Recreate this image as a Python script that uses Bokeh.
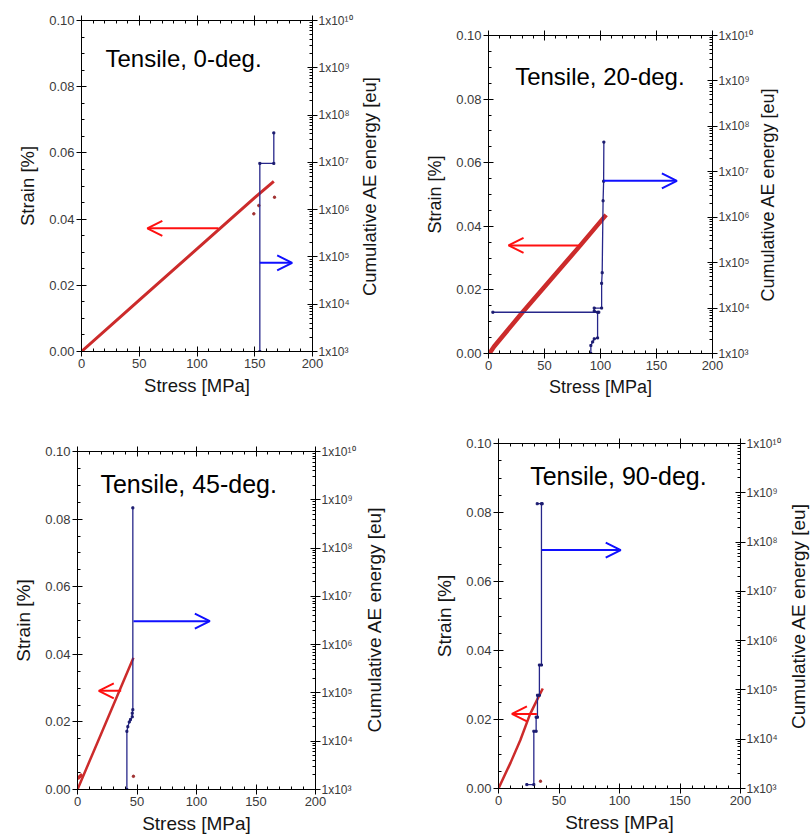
import math
from bokeh.plotting import figure
from bokeh.layouts import column, row
from bokeh.models import (Range1d, LinearAxis, LogAxis, LogScale, FixedTicker,
                          Arrow, OpenHead, Label, Spacer)
from bokeh.embed import file_html
from bokeh.resources import INLINE

# ---------------- data ----------------
STRESS_TICKS = [0, 50, 100, 150, 200]
STRESS_TICK_LABELS = ["0", "50", "100", "150", "200"]
STRAIN_TICKS = [0.0, 0.02, 0.04, 0.06, 0.08, 0.10]
STRAIN_TICK_LABELS = ["0.00", "0.02", "0.04", "0.06", "0.08", "0.10"]
AE_TICKS = [1e3, 1e4, 1e5, 1e6, 1e7, 1e8, 1e9, 1e10]
AE_TICK_LABELS = ["1x10³", "1x10⁴", "1x10⁵", "1x10⁶", "1x10⁷", "1x10⁸", "1x10⁹", "1x10¹⁰"]

TITLES = ["Tensile, 0-deg.", "Tensile, 20-deg.", "Tensile, 45-deg.", "Tensile, 90-deg."]
X_LABEL = "Stress [MPa]"
Y_LABEL = "Strain [%]"
Y2_LABEL = "Cumulative AE energy [eu]"

# 0-deg
stress_0 = [0, 50, 100, 150, 166.5]
strain_0 = [0.0, 0.0155, 0.031, 0.0465, 0.0514]
dot_stress_0 = [149.2, 153.5, 167.1]
dot_strain_0 = [0.0416, 0.0441, 0.0466]
ae_stress_0 = [154.4, 154.4, 166.5, 166.5]
ae_energy_0 = [1.0e3, 9.5e6, 9.5e6, 4.2e7]

# 20-deg
stress_20 = [0, 2, 5, 30, 82, 105]
strain_20 = [0.0, 0.0006, 0.0022, 0.0128, 0.034, 0.0436]
dot_stress_20 = []
dot_strain_20 = []
ae_stress_20a = [3.9, 98.5]
ae_energy_20a = [8.1e3, 8.1e3]
ae_stress_20 = [91.4, 91.4, 93.0, 94.4, 97.4, 97.4, 94.4, 94.4, 101.0, 101.0, 101.5, 102.3, 102.8, 103.0]
ae_energy_20 = [1.0e3, 1.5e3, 1.8e3, 2.1e3, 2.2e3, 8.1e3, 8.6e3, 1.0e4, 1.0e4, 3.5e4, 6.0e4, 2.3e6, 6.2e6, 4.5e7]

# 45-deg
stress_45 = [0, 20, 47]
strain_45 = [0.0, 0.0166, 0.039]
stress_45b = [0, 4]
strain_45b = [0.0032, 0.0045]
dot_stress_45 = [47.0]
dot_strain_45 = [0.0039]
ae_stress_45 = [41.5, 41.5, 42.3, 43.5, 44.5, 46.0, 46.0, 46.5, 46.5]
ae_energy_45 = [1.0e3, 1.6e4, 2.0e4, 2.5e4, 2.8e4, 3.2e4, 3.8e4, 4.5e4, 6.8e8]

# 90-deg
stress_90 = [0, 10, 18, 26, 33, 36.6]
strain_90 = [0.0, 0.0075, 0.014, 0.0215, 0.0265, 0.029]
dot_stress_90 = [34.7]
dot_strain_90 = [0.0021]
ae_stress_90 = [23.4, 29.2, 29.2, 31.1, 31.1, 32.2, 32.2, 33.8, 33.8, 35.5, 35.5, 36.1, 32.0]
ae_energy_90 = [1.2e3, 1.2e3, 1.45e4, 1.45e4, 2.8e4, 2.8e4, 7.8e4, 7.8e4, 3.2e5, 3.2e5, 6.0e8, 6.0e8, 6.0e8]

# arrows: (x_start, x_end, y) in stress / strain units
red_arrows = [(118.6, 57.0, 0.0372), (81.9, 17.9, 0.034), (36.7, 17.9, 0.0292), (31.7, 11.1, 0.0216)]
blue_arrows = [(154.4, 182.4, 0.0268), (102.7, 168.2, 0.0543), (47.0, 111.2, 0.0498), (35.8, 101.0, 0.0691)]
title_pos = [(20.8, 0.0885), (23.8, 0.087), (19.3, 0.0904), (26.2, 0.0906)]

FONT = "Liberation Sans"
RED = "#cc2b2b"
NAVY = "#26268a"


def make_panel(i, fw, fh, bl, bt, br, bb, lab_fs, tick_fs, title_fs, red_w, r_lab_off,
               sx, sy, dsx, dsy, aex_list, aey_list, extra_red=None):
    p = figure(width=bl + fw + br, height=bt + fh + bb,
               x_range=Range1d(0, 200), y_range=Range1d(0, 0.1),
               x_axis_type=None, y_axis_type=None,
               output_backend="svg", toolbar_location=None,
               min_border_left=bl, min_border_top=bt, min_border_right=br, min_border_bottom=bb)
    p.extra_y_ranges = {"ae": Range1d(1e3, 1e10)}
    p.extra_y_scales = {"ae": LogScale()}
    p.outline_line_color = "black"
    p.outline_line_width = 1
    p.background_fill_color = "white"
    p.border_fill_color = "white"

    def style(ax, minor_in=3):
        ax.axis_line_color = "black"
        ax.major_tick_line_color = "black"
        ax.minor_tick_line_color = "black"
        ax.major_tick_in = 5
        ax.major_tick_out = 5
        ax.minor_tick_in = minor_in
        ax.minor_tick_out = 0
        ax.major_label_text_font = FONT
        ax.major_label_text_font_size = f"{tick_fs}px"
        ax.major_label_text_color = "#3a3a3a"
        ax.axis_label_text_font = FONT
        ax.axis_label_text_font_size = f"{lab_fs}px"
        ax.axis_label_text_font_style = "normal"
        ax.axis_label_text_color = "#151515"

    xt = FixedTicker(ticks=STRESS_TICKS, minor_ticks=[v * 10 for v in range(21)])
    xb = LinearAxis(ticker=xt, axis_label=X_LABEL,
                    major_label_overrides=dict(zip(STRESS_TICKS, STRESS_TICK_LABELS)))
    style(xb)
    xb.major_label_standoff = 2
    xb.axis_label_standoff = 4
    p.add_layout(xb, "below")

    xa = LinearAxis(ticker=xt)
    style(xa)
    xa.major_label_text_color = None
    xa.major_label_text_font_size = "1px"
    xa.major_label_standoff = 0
    p.add_layout(xa, "above")

    yt = FixedTicker(ticks=STRAIN_TICKS, minor_ticks=[v * 0.005 for v in range(21)])
    yl = LinearAxis(ticker=yt, axis_label=Y_LABEL,
                    major_label_overrides=dict(zip(STRAIN_TICKS, STRAIN_TICK_LABELS)))
    style(yl)
    yl.major_label_standoff = 2
    yl.axis_label_standoff = 8
    p.add_layout(yl, "left")

    minor_ae = [m * 10 ** e for e in range(3, 10) for m in range(2, 10)]
    yr = LogAxis(y_range_name="ae", ticker=FixedTicker(ticks=AE_TICKS, minor_ticks=minor_ae),
                 major_label_overrides=dict(zip(AE_TICKS, AE_TICK_LABELS)))
    style(yr)
    yr.major_label_text_font_size = f"{tick_fs - 1}px"
    yr.major_label_standoff = 1
    p.add_layout(yr, "right")

    # right axis title, reading bottom-to-top, placed in the right side panel
    p.add_layout(Label(x=r_lab_off, y=fh / 2, x_units="screen", y_units="screen",
                       text=Y2_LABEL, angle=math.pi / 2, text_font=FONT,
                       text_font_size=f"{lab_fs}px", text_color="#151515",
                       text_align="center", text_baseline="middle"), "right")

    # data
    p.line(sx, sy, line_color=RED, line_width=red_w)
    if extra_red is not None:
        p.line(extra_red[0], extra_red[1], line_color=RED, line_width=red_w + 1)
    if dsx:
        p.scatter(dsx, dsy, size=2.5, color="#a03030")
    for ax_, ay_ in zip(aex_list, aey_list):
        p.line(ax_, ay_, y_range_name="ae", line_color=NAVY, line_width=1.3)
        p.scatter(ax_, ay_, y_range_name="ae", marker="square", size=2, color="#1c1c70")

    rx0, rx1, ry = red_arrows[i]
    p.add_layout(Arrow(x_start=rx0, y_start=ry, x_end=rx1, y_end=ry,
                       line_color="#ff1010", line_width=2,
                       end=OpenHead(size=15, line_color="#ff1010", line_width=2)))
    bx0, bx1, by = blue_arrows[i]
    p.add_layout(Arrow(x_start=bx0, y_start=by, x_end=bx1, y_end=by,
                       line_color="#1010ff", line_width=2,
                       end=OpenHead(size=15, line_color="#1010ff", line_width=2)))
    tx, ty = title_pos[i]
    p.add_layout(Label(x=tx, y=ty, text=TITLES[i], text_font=FONT,
                       text_font_size=f"{title_fs}px", text_color="black",
                       text_baseline="alphabetic", text_align="left"))
    return p


p1 = make_panel(0, 231, 331, 81, 10, 95, 52, 18.5, 13, 24, 3, 14,
                stress_0, strain_0, dot_stress_0, dot_strain_0,
                [ae_stress_0], [ae_energy_0])
p2 = make_panel(1, 224, 318, 81, 10, 90, 50, 18, 13, 24, 4.5, 12,
                stress_20, strain_20, dot_stress_20, dot_strain_20,
                [ae_stress_20a, ae_stress_20], [ae_energy_20a, ae_energy_20])
p3 = make_panel(2, 238, 340, 77, 10, 98, 45, 19, 13, 25, 2.5, 16,
                stress_45, strain_45, dot_stress_45, dot_strain_45,
                [ae_stress_45], [ae_energy_45], extra_red=(stress_45b, strain_45b))
p4 = make_panel(3, 242, 345, 85, 10, 70, 48, 19, 13, 25, 2.5, 15,
                stress_90, strain_90, dot_stress_90, dot_strain_90,
                [ae_stress_90], [ae_energy_90])

layout = column(
    row(column(Spacer(height=10), p1), column(Spacer(height=25), p2)),
    row(column(Spacer(height=38), p3), column(Spacer(height=30), p4)),
)
open("out.html", "w").write(file_html(layout, INLINE))
